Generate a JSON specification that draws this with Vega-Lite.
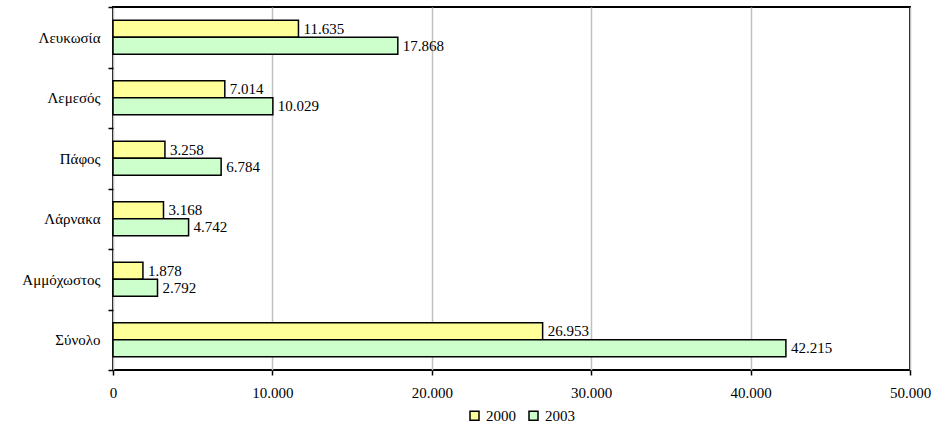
{
  "$schema": "https://vega.github.io/schema/vega-lite/v6.json",
  "width": 797,
  "height": 363,
  "autosize": "none",
  "padding": {"left": 113, "top": 7, "right": 41, "bottom": 57},
  "config": {
    "locale": {"number": {"decimal": ",", "thousands": ".", "grouping": [3], "currency": ["", " €"]}},
    "font": "Liberation Serif, Times New Roman, serif",
    "view": {"stroke": "#000", "strokeWidth": 2}
  },
  "data": {
    "values": [
      {"region": "Λευκωσία", "year": "2000", "value": 11635},
      {"region": "Λευκωσία", "year": "2003", "value": 17868},
      {"region": "Λεμεσός", "year": "2000", "value": 7014},
      {"region": "Λεμεσός", "year": "2003", "value": 10029},
      {"region": "Πάφος", "year": "2000", "value": 3258},
      {"region": "Πάφος", "year": "2003", "value": 6784},
      {"region": "Λάρνακα", "year": "2000", "value": 3168},
      {"region": "Λάρνακα", "year": "2003", "value": 4742},
      {"region": "Αμμόχωστος", "year": "2000", "value": 1878},
      {"region": "Αμμόχωστος", "year": "2003", "value": 2792},
      {"region": "Σύνολο", "year": "2000", "value": 26953},
      {"region": "Σύνολο", "year": "2003", "value": 42215}
    ]
  },
  "encoding": {
    "y": {
      "field": "region",
      "type": "nominal",
      "sort": ["Λευκωσία", "Λεμεσός", "Πάφος", "Λάρνακα", "Αμμόχωστος", "Σύνολο"],
      "scale": {"paddingInner": 0, "paddingOuter": 0},
      "axis": {
        "title": null,
        "tickBand": "extent",
        "domain": false,
        "grid": false,
        "tickSize": 5,
        "tickColor": "#000",
        "tickWidth": 1.5,
        "labelPadding": 8,
        "labelFontSize": 15,
        "labelColor": "#000",
        "labelFont": "Liberation Serif, Times New Roman, serif"
      }
    },
    "yOffset": {
      "field": "year",
      "type": "nominal",
      "sort": ["2000", "2003"],
      "scale": {"paddingOuter": 0.78, "paddingInner": 0}
    },
    "x": {
      "field": "value",
      "type": "quantitative",
      "scale": {"domain": [0, 50000], "nice": false},
      "axis": {
        "title": null,
        "values": [0, 10000, 20000, 30000, 40000, 50000],
        "format": ",.0f",
        "grid": true,
        "gridColor": "#c0c0c0",
        "gridWidth": 1.5,
        "domain": false,
        "tickSize": 5,
        "tickColor": "#000",
        "tickWidth": 1.5,
        "labelPadding": 10,
        "labelFlush": false,
        "labelFontSize": 15,
        "labelColor": "#000",
        "labelFont": "Liberation Serif, Times New Roman, serif"
      }
    }
  },
  "layer": [
    {
      "mark": {"type": "bar", "stroke": "#000", "strokeWidth": 1.5},
      "encoding": {
        "color": {
          "field": "year",
          "type": "nominal",
          "scale": {"domain": ["2000", "2003"], "range": ["#FFFF99", "#CCFFCC"]},
          "legend": {
            "orient": "none",
            "legendX": 354,
            "legendY": 401,
            "direction": "horizontal",
            "title": null,
            "symbolType": "square",
            "symbolSize": 81,
            "symbolStrokeColor": "#000",
            "symbolStrokeWidth": 1.5,
            "labelFontSize": 15,
            "labelFont": "Liberation Serif, Times New Roman, serif",
            "labelColor": "#000",
            "labelOffset": 4,
            "columnPadding": 10
          }
        }
      }
    },
    {
      "mark": {"type": "text", "align": "left", "baseline": "middle", "dx": 5, "fontSize": 15, "font": "Liberation Serif, Times New Roman, serif", "color": "#000"},
      "encoding": {
        "text": {"field": "value", "type": "quantitative", "format": ",.0f"}
      }
    }
  ]
}
